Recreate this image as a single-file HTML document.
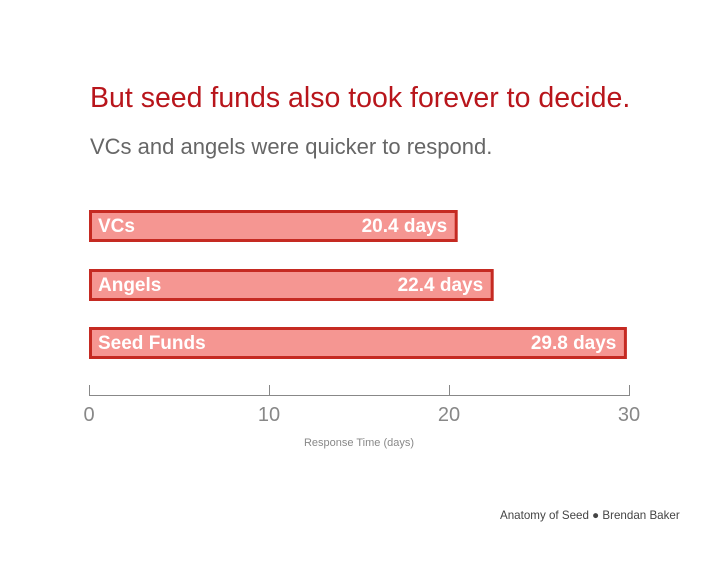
<!DOCTYPE html>
<html><head><meta charset="utf-8"><style>
body{margin:0;background:#fff;}
svg text{font-family:"Liberation Sans",sans-serif;}
</style></head><body>
<svg width="728" height="563" viewBox="0 0 728 563">
<text x="90" y="107" font-size="28.5" fill="#b8151b">But seed funds also took forever to decide.</text>
<text x="90" y="154" font-size="22" fill="#666">VCs and angels were quicker to respond.</text>
<g id="bars"></g>
<g id="axis"></g>
<text x="359" y="446" font-size="11" fill="#888" text-anchor="middle">Response Time (days)</text>
<text x="500" y="519" font-size="11.6" fill="#444">Anatomy of Seed ● Brendan Baker</text>
</svg>
<script>
const categories=["VCs","Angels","Seed Funds"];
const values=[20.4,22.4,29.8];
const valueLabels=["20.4 days","22.4 days","29.8 days"];
const ticks=[0,10,20,30];
const x=v=>89+v*18;
const rowY=[210,269,327];
const ns="http://www.w3.org/2000/svg";
const bars=document.getElementById('bars');
categories.forEach((c,i)=>{
  const r=document.createElementNS(ns,'rect');
  
  
  r.setAttribute('x',90.5);r.setAttribute('y',rowY[i]+1.5);
  r.setAttribute('width',x(values[i])-90.5);r.setAttribute('height',29);
  r.setAttribute('fill','#f59692');r.setAttribute('stroke','#c52a22');r.setAttribute('stroke-width',3);
  bars.appendChild(r);
  const t=document.createElementNS(ns,'text');
  
  
  t.setAttribute('x',98);t.setAttribute('y',rowY[i]+22);t.setAttribute('font-size',19);t.setAttribute('font-weight','bold');t.setAttribute('fill','#fff');
  t.textContent=c;bars.appendChild(t);
  const v=document.createElementNS(ns,'text');
  
  
  v.setAttribute('x',x(values[i])-9);v.setAttribute('y',rowY[i]+22);v.setAttribute('font-size',19);v.setAttribute('font-weight','bold');v.setAttribute('fill','#fff');v.setAttribute('text-anchor','end');
  v.textContent=valueLabels[i];bars.appendChild(v);
});
const ax=document.getElementById('axis');
const l=document.createElementNS(ns,'line');


l.setAttribute('x1',x(0));l.setAttribute('x2',x(30));l.setAttribute('y1',395.5);l.setAttribute('y2',395.5);l.setAttribute('stroke','#888');
ax.appendChild(l);
ticks.forEach(tv=>{
  const tk=document.createElementNS(ns,'line');
  
  
  tk.setAttribute('x1',x(tv)+0.5);tk.setAttribute('x2',x(tv)+0.5);tk.setAttribute('y1',385);tk.setAttribute('y2',396);tk.setAttribute('stroke','#888');
  ax.appendChild(tk);
  const tl=document.createElementNS(ns,'text');
  
  
  tl.setAttribute('x',x(tv));tl.setAttribute('y',421);tl.setAttribute('font-size',20);tl.setAttribute('fill','#888');tl.setAttribute('text-anchor','middle');
  tl.textContent=tv;ax.appendChild(tl);
});
</script>
</body></html>
